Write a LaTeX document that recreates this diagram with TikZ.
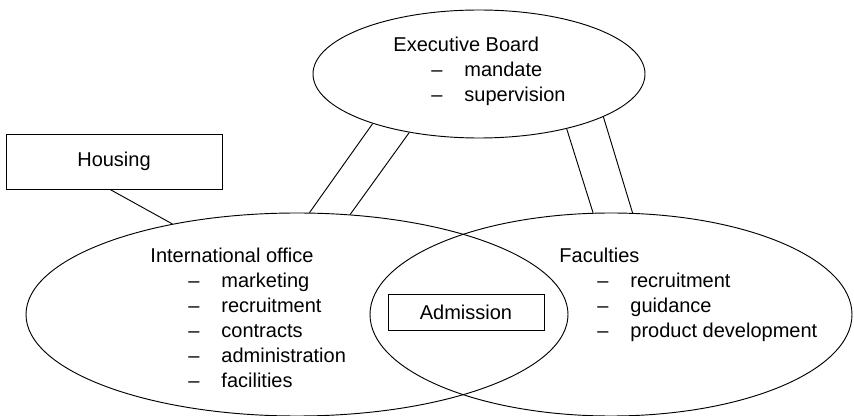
\documentclass[tikz,border=0pt]{standalone}
\usepackage{fontspec}
\setmainfont{Liberation Sans}
\usetikzlibrary{shapes.geometric}

% one line of a duty list: indent, dash, then the text
\newcommand{\dashitem}[1]{\hspace*{28.5pt}\makebox[24.75pt][l]{--}#1}

\begin{document}
\begin{tikzpicture}[x=0.75pt, y=-0.75pt, line width=0.7pt,
	unit/.style={ellipse, draw, inner sep=0pt},
	box/.style={rectangle, draw, inner sep=0pt, font=\fontsize{15}{18}\selectfont},
	duties/.style={anchor=base west, align=left, inner sep=0pt, font=\fontsize{15}{18.75}\selectfont},
	link/.style={draw}]

	\useasboundingbox (0, 0) rectangle (854, 416);

	\node (exec) [unit, minimum width=249pt, minimum height=96pt] at (479, 74) {};
	\node (io) [unit, minimum width=406.5pt, minimum height=152.25pt] at (297, 314.5) {};
	\node (fac) [unit, minimum width=361.5pt, minimum height=152.25pt] at (611, 314.5) {};
	\node (housing) [box, minimum width=162pt, minimum height=41.25pt] at (114, 161.5) {Housing};
	\node (admission) [box, minimum width=117pt, minimum height=27pt] at (466, 312) {Admission};

	% lists sit on the baseline of their last line
	\node (exectext) [duties] at (393, 102) {Executive Board\\ \dashitem{mandate}\\ \dashitem{supervision}};
	\node (iotext) [duties] at (150, 388) {International office\\ \dashitem{marketing}\\ \dashitem{recruitment}\\
		\dashitem{contracts}\\ \dashitem{administration}\\ \dashitem{facilities}};
	\node (factext) [duties] at (559, 338) {Faculties\\ \dashitem{recruitment}\\ \dashitem{guidance}\\ \dashitem{product development}};

	\path[link]
	(exec.205) edge (io.83)
	(exec.220) edge (io.62)
	(exec.328) edge (fac.100)
	(exec.341) edge (fac.78)
	(housing.262) edge (io.144);

\end{tikzpicture}
\end{document}
